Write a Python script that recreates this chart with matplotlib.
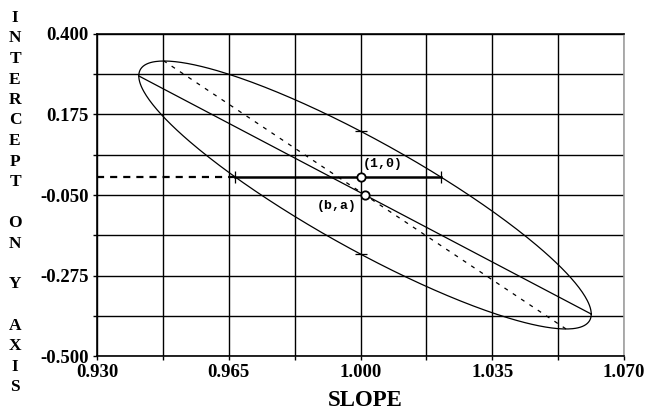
import numpy as np
import matplotlib
matplotlib.use("Agg")
import matplotlib.pyplot as plt

# joint confidence region for slope and intercept
slope_hat = 1.0012
intercept_hat = -0.050
sd_slope = 0.0601
sd_intercept = 0.3745
cov_si = -0.0200
ref_slope = 1.0
ref_intercept = 0.0

x_ticks = [0.930, 0.9475, 0.965, 0.9825, 1.000, 1.0175, 1.035, 1.0525, 1.070]
x_labels = ["0.930", "", "0.965", "", "1.000", "", "1.035", "", "1.070"]
y_ticks = [0.400, 0.2875, 0.175, 0.0625, -0.050, -0.1625, -0.275, -0.3875, -0.500]
y_labels = ["0.400", "", "0.175", "", "-0.050", "", "-0.275", "", "-0.500"]

serif = "Liberation Serif"
mono = "Liberation Mono"

cov = np.array([[sd_slope**2, cov_si], [cov_si, sd_intercept**2]])
c = np.array([slope_hat, intercept_hat])
L = np.linalg.cholesky(cov)
t = np.linspace(0, 2*np.pi, 400)
ell = c[:, None] + L @ np.vstack([np.cos(t), np.sin(t)])

sxx, syy, sxy = cov[0, 0], cov[1, 1], cov[0, 1]
# points of vertical tangency (solid) and horizontal tangency (dashed)
lr = np.array([np.sqrt(sxx), sxy/np.sqrt(sxx)])
tb = np.array([sxy/np.sqrt(syy), np.sqrt(syy)])

# chord of the ellipse at intercept = 0
dy = ref_intercept - intercept_hat
xm = slope_hat + sxy/syy*dy
hw = np.sqrt(sxx - sxy**2/syy)*np.sqrt(1 - dy**2/syy)
# chord of the ellipse at slope = 1
dx = ref_slope - slope_hat
ym = intercept_hat + sxy/sxx*dx
hh = np.sqrt(syy - sxy**2/sxx)*np.sqrt(1 - dx**2/sxx)

fig = plt.figure(figsize=(6.52, 4.11), dpi=100)
ax = fig.add_axes([97/652, 1-356/411, 527/652, 322/411])
ax.set_xlim(0.930, 1.070)
ax.set_ylim(-0.500, 0.400)

for xv in x_ticks:
    ax.axvline(xv, color="black", lw=1.0, zorder=1)
for yv in y_ticks:
    ax.axhline(yv, color="black", lw=1.0, zorder=1)

ax.plot(ell[0], ell[1], color="black", lw=0.9, zorder=3)
ax.plot([c[0]-lr[0], c[0]+lr[0]], [c[1]-lr[1], c[1]+lr[1]], color="black", lw=0.9, zorder=3)
ax.plot([c[0]-tb[0], c[0]+tb[0]], [c[1]-tb[1], c[1]+tb[1]], color="black", lw=0.9,
        dashes=(3.2, 4.8), zorder=3)

ax.plot([0.930, xm-hw], [ref_intercept, ref_intercept], color="black", lw=1.6,
        dashes=(3.2, 2.7), zorder=3)
ax.plot([xm-hw, xm+hw], [ref_intercept, ref_intercept], color="black", lw=1.8, zorder=3)
ax.plot([xm-hw, xm+hw], [ref_intercept, ref_intercept], ls="none", marker="|",
        ms=9, mew=0.9, color="black", zorder=3)
ax.plot([ref_slope, ref_slope], [ym-hh, ym+hh], ls="none", marker="_",
        ms=9, mew=0.9, color="black", zorder=3)

ax.plot([ref_slope], [ref_intercept], ls="none", marker="o", ms=6, mfc="white",
        mec="black", mew=1.3, zorder=5)
ax.plot([slope_hat], [intercept_hat], ls="none", marker="o", ms=6, mfc="white",
        mec="black", mew=1.3, zorder=5)
ax.annotate("(1,0)", (ref_slope, ref_intercept), xytext=(2, 13), textcoords="offset pixels",
            ha="left", va="center", family=mono, weight="bold", fontsize=9.5)
ax.annotate("(b,a)", (slope_hat, intercept_hat), xytext=(-8, -11), textcoords="offset pixels",
            ha="right", va="center", family=mono, weight="bold", fontsize=9.5)

ax.set_xticks(x_ticks)
ax.set_xticklabels(x_labels, family=serif, weight="bold", fontsize=13.5)
ax.set_yticks(y_ticks)
ax.set_yticklabels(y_labels, family=serif, weight="bold", fontsize=13.5)
ax.tick_params(direction="out", length=3, width=1, pad=3, color="black")

for s in ["left", "bottom", "top"]:
    ax.spines[s].set_color("black")
    ax.spines[s].set_linewidth(1.2)
ax.spines["right"].set_color("#a0a0a0")
ax.spines["right"].set_linewidth(1.2)

fig.text(365/652, 1-400/411, "SLOPE", ha="center", va="center",
         family=serif, weight="bold", fontsize=16.5)

ylab = "INTERCEPT ON Y AXIS"
for i, ch in enumerate(ylab):
    if ch == " ":
        continue
    fig.text(15/652, 1-(18+20.5*i)/411, ch, ha="center", va="center",
             family=serif, weight="bold", fontsize=12.5)

fig.savefig("out.png", dpi=100)
